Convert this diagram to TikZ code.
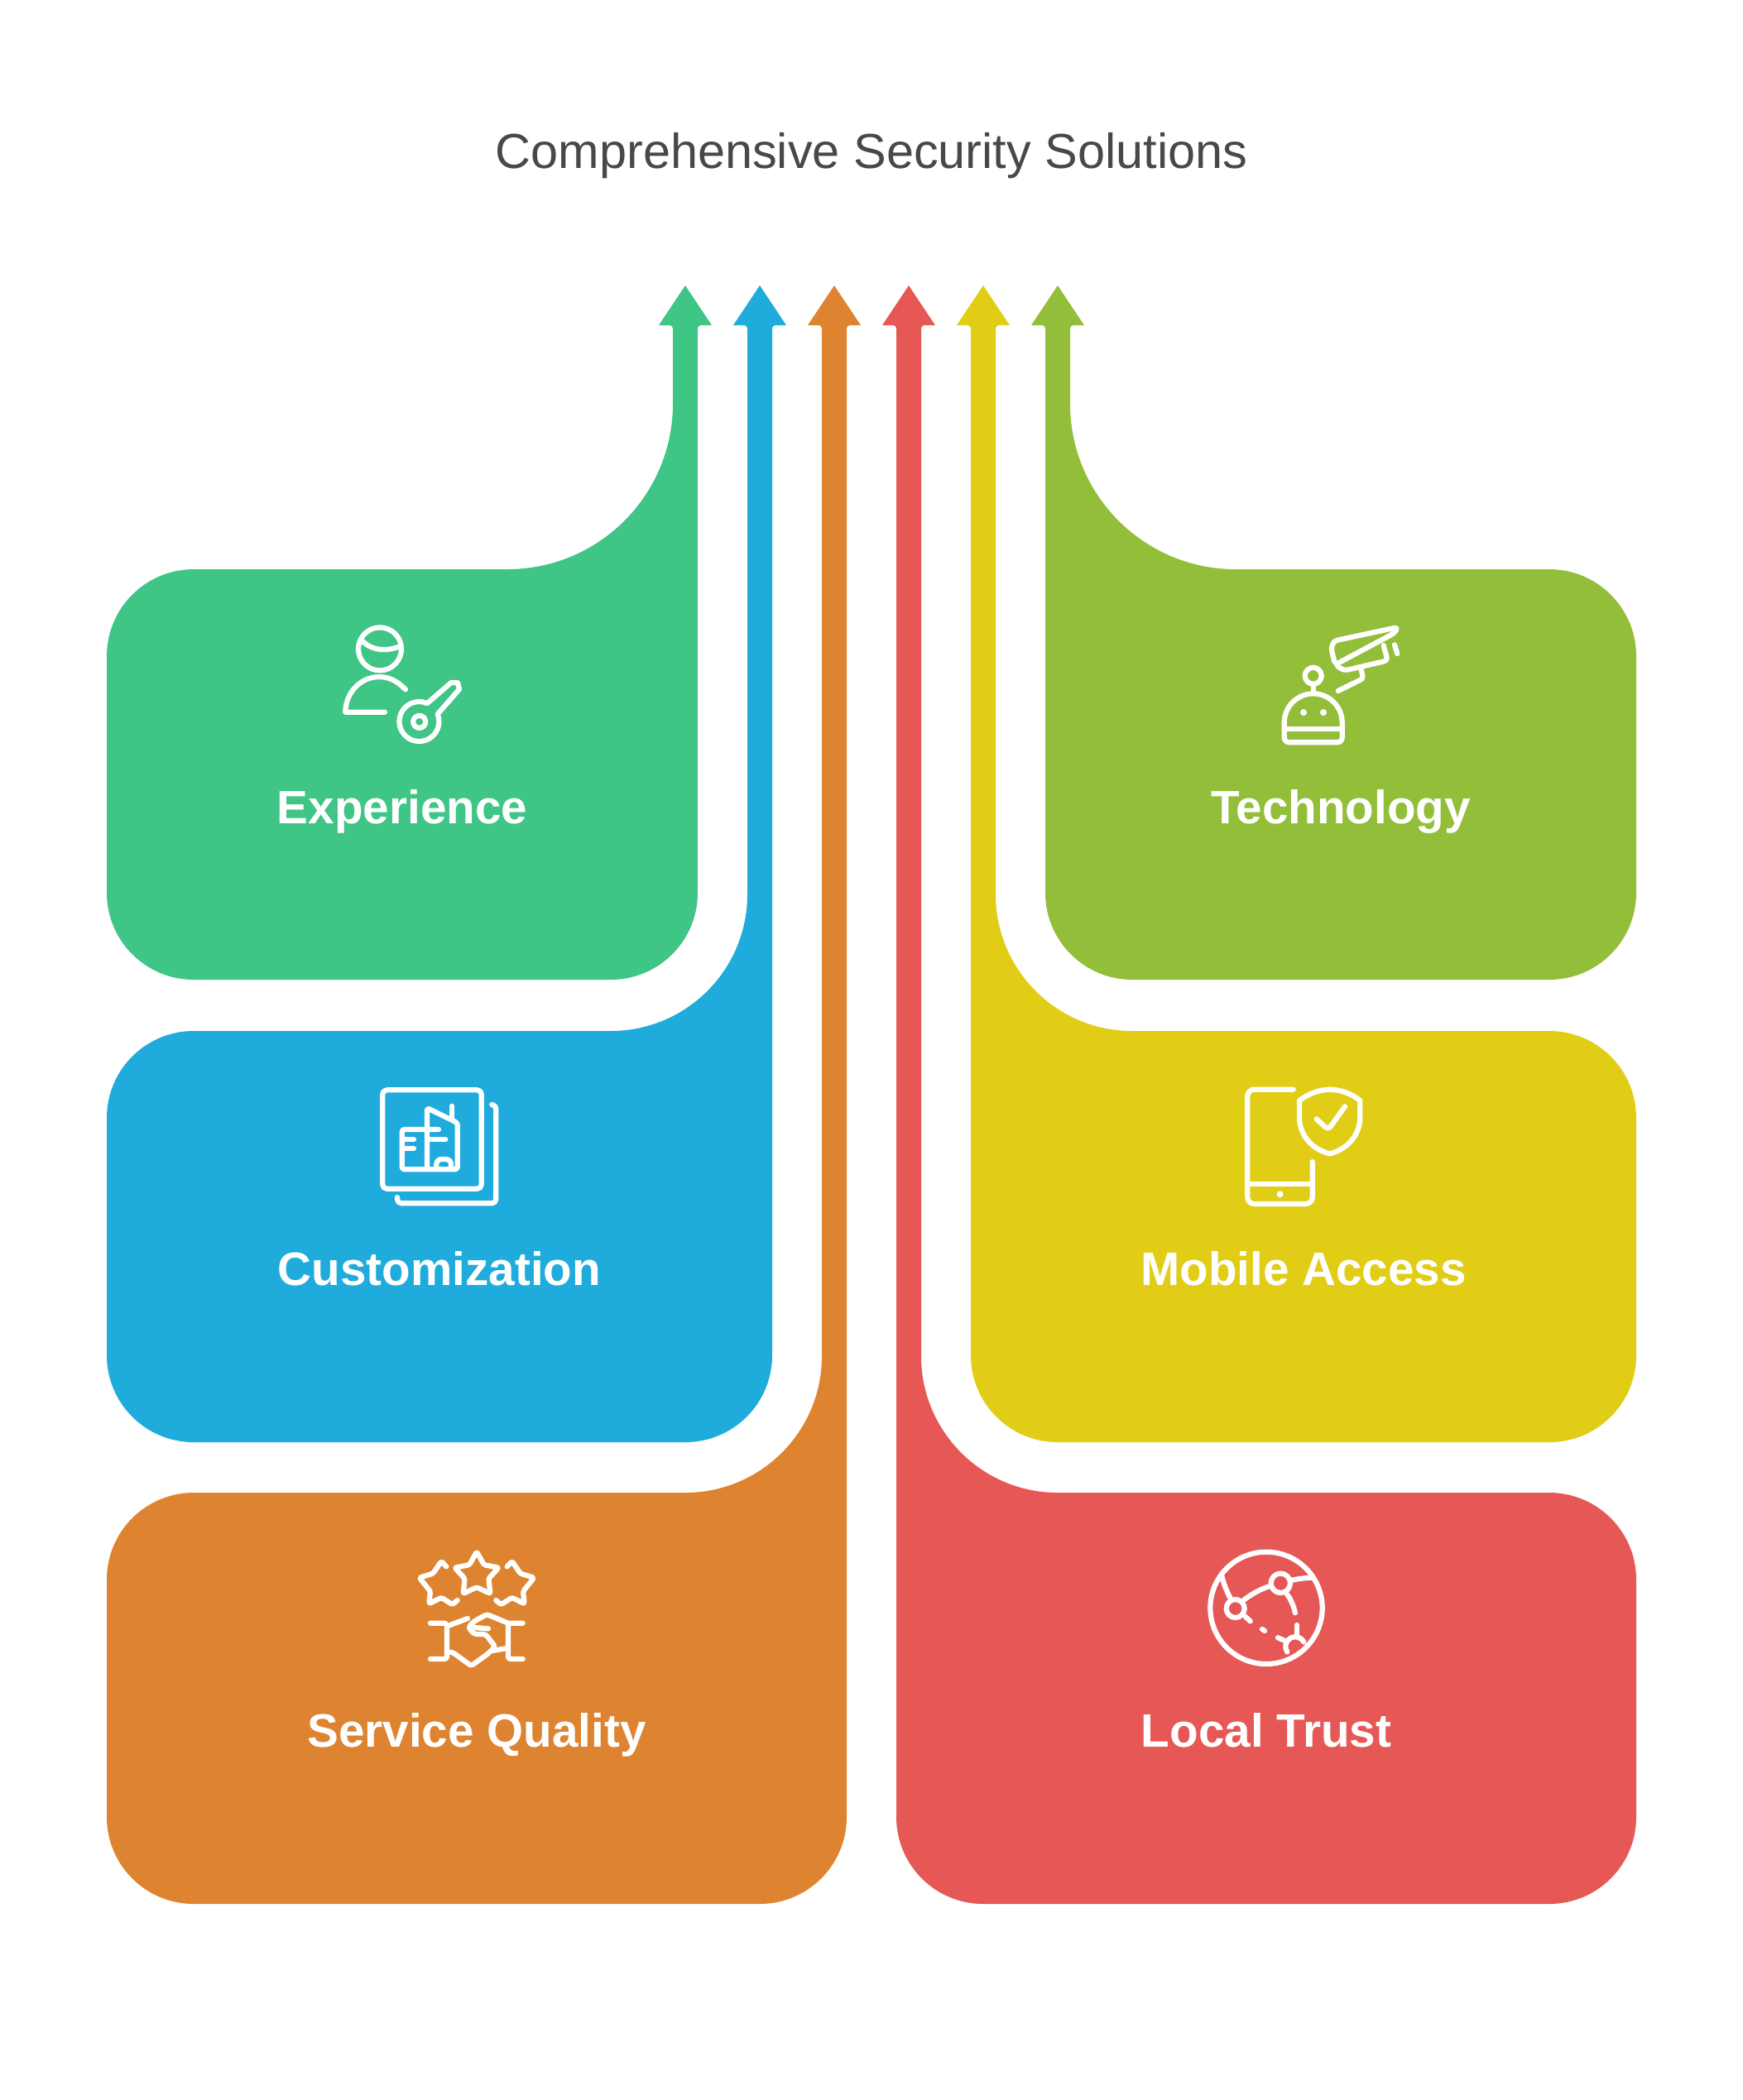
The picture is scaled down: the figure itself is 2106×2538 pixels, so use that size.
\documentclass[tikz,border=0pt]{standalone}
\usepackage{fontspec}
\setmainfont{Liberation Sans}
\usepackage{xcolor}
\definecolor{expgreen}{HTML}{3FC585}
\definecolor{custblue}{HTML}{1FABDC}
\definecolor{servorange}{HTML}{DE8431}
\definecolor{trustred}{HTML}{E65856}
\definecolor{mobyellow}{HTML}{E1CD15}
\definecolor{techlime}{HTML}{93BE3A}
\definecolor{titlegray}{HTML}{484848}
\tikzset{
  iconline/.style={draw=white,line width=0.062cm,line cap=round,line join=round},
  icondot/.style={fill=white},
  labeltext/.style={anchor=base,text=white,font=\fontsize{16.1}{20}\selectfont\bfseries},
  titletext/.style={anchor=base,text=titlegray,font=\fontsize{16.9}{20}\selectfont}
}

\begin{document}
\begin{tikzpicture}[x=0.01cm,y=-0.01cm]
  \useasboundingbox (0,0) rectangle (2106,2538);
  \node[titletext] (title) at (1053,203) {Comprehensive Security Solutions};

  % arrow shapes
  \fill[expgreen] (828,345) -- (860,393) -- (847,393) arc[start angle=270,end angle=180,radius=4] -- (843,1079)
    arc[start angle=0,end angle=90,radius=105] -- (234,1184) arc[start angle=90,end angle=180,radius=105] -- (129,793)
    arc[start angle=180,end angle=270,radius=105] -- (613,688) arc[start angle=90,end angle=0,radius=200]
    -- (813,397) arc[start angle=0,end angle=-90,radius=4] -- (796,393) -- cycle;  % experience
  \fill[custblue] (918,345) -- (950,393) -- (937,393) arc[start angle=270,end angle=180,radius=4] -- (933,1638)
    arc[start angle=0,end angle=90,radius=105] -- (234,1743) arc[start angle=90,end angle=180,radius=105] -- (129,1351)
    arc[start angle=180,end angle=270,radius=105] -- (738,1246) arc[start angle=90,end angle=0,radius=165]
    -- (903,397) arc[start angle=0,end angle=-90,radius=4] -- (886,393) -- cycle;  % customization
  \fill[servorange] (1008,345) -- (1040,393) -- (1027,393) arc[start angle=270,end angle=180,radius=4] -- (1023,2196)
    arc[start angle=0,end angle=90,radius=105] -- (234,2301) arc[start angle=90,end angle=180,radius=105] -- (129,1909)
    arc[start angle=180,end angle=270,radius=105] -- (828,1804) arc[start angle=90,end angle=0,radius=165]
    -- (993,397) arc[start angle=0,end angle=-90,radius=4] -- (976,393) -- cycle;  % service quality
  \fill[trustred] (1098,345) -- (1130,393) -- (1117,393) arc[start angle=270,end angle=180,radius=4] -- (1113,1639)
    arc[start angle=180,end angle=90,radius=165] -- (1872,1804) arc[start angle=270,end angle=360,radius=105] -- (1977,2196)
    arc[start angle=0,end angle=90,radius=105] -- (1188,2301) arc[start angle=90,end angle=180,radius=105]
    -- (1083,397) arc[start angle=0,end angle=-90,radius=4] -- (1066,393) -- cycle;  % local trust
  \fill[mobyellow] (1188,345) -- (1220,393) -- (1207,393) arc[start angle=270,end angle=180,radius=4] -- (1203,1081)
    arc[start angle=180,end angle=90,radius=165] -- (1872,1246) arc[start angle=270,end angle=360,radius=105] -- (1977,1638)
    arc[start angle=0,end angle=90,radius=105] -- (1278,1743) arc[start angle=90,end angle=180,radius=105]
    -- (1173,397) arc[start angle=0,end angle=-90,radius=4] -- (1156,393) -- cycle;  % mobile access
  \fill[techlime] (1278,345) -- (1310,393) -- (1297,393) arc[start angle=270,end angle=180,radius=4] -- (1293,488)
    arc[start angle=180,end angle=90,radius=200] -- (1872,688) arc[start angle=270,end angle=360,radius=105] -- (1977,1079)
    arc[start angle=0,end angle=90,radius=105] -- (1368,1184) arc[start angle=90,end angle=180,radius=105]
    -- (1263,397) arc[start angle=0,end angle=-90,radius=4] -- (1246,393) -- cycle;  % technology

  % labels
  \node[labeltext] (experience) at (486,995) {Experience};
  \node[labeltext] (customization) at (531,1553) {Customization};
  \node[labeltext] (service) at (576,2111) {Service Quality};
  \node[labeltext] (trust) at (1530,2111) {Local Trust};
  \node[labeltext] (mobile) at (1575,1553) {Mobile Access};
  \node[labeltext] (technology) at (1620,995) {Technology};

  % person with key
  \draw[iconline] (459,784.3) circle[radius=26];  % head
  \draw[iconline] (438.3,775) .. controls (450,787) and (468,787) .. (481.7,781.7);  % hair
  \draw[iconline] (490,833.3) .. controls (480,823) and (470,818) .. (458,818)
    .. controls (435,818) and (417.3,838) .. (417.3,860.7) -- (465,860.7);  % body
  \draw[iconline] (528.7,863) arc[start angle=-22,end angle=294,radius=24] -- (545,825) -- (553,825) -- (555,833) -- cycle;  % key
  \draw[iconline] (506.7,872.3) circle[radius=7.5];  % key hole

  % robot and camera
  \draw[iconline,rounded corners=0.06cm] (1551.7,873.3) -- (1551.7,897.3) -- (1621.7,897.3) -- (1621.7,873.3);
  \draw[iconline] (1551.7,873.3) arc[start angle=180,end angle=360,radius=35];  % dome
  \draw[iconline] (1551.7,880.7) -- (1621.7,880.7);
  \fill[icondot] (1575,861) circle[radius=4];
  \fill[icondot] (1599,861) circle[radius=4];
  \draw[iconline] (1586.7,816.7) circle[radius=10];  % antenna
  \draw[iconline] (1586.7,826.7) -- (1586.7,838.3);
  \draw[iconline,rounded corners=0.04cm] (1685,765) -- (1689,758) -- (1612,774.5) -- (1608.3,783.3) -- (1613.3,803.3) -- cycle;  % camera body
  \draw[iconline,rounded corners=0.04cm] (1671.7,780) -- (1676.7,798.3) -- (1624,810.5) -- (1616,805);
  \draw[iconline,rounded corners=0.03cm] (1645,810) -- (1647,820) -- (1616.7,835);  % stand
  \draw[iconline] (1685,779.3) -- (1688.3,790);

  % building cards
  \draw[iconline,rounded corners=0.05cm] (462.3,1317.3) rectangle (581.7,1436.7);
  \draw[iconline,rounded corners=0.05cm] (480,1447) -- (480,1454.3) -- (599.3,1454.3) -- (599.3,1335) -- (595,1335);
  \draw[iconline,rounded corners=0.03cm] (530,1365) -- (485.7,1365) -- (485.7,1413.3) -- (552.7,1413.3) -- (552.7,1357) -- (516,1339) -- (516,1412);
  \draw[iconline] (546,1336.7) -- (546,1351.7);
  \draw[iconline] (488,1376.7) -- (500,1376.7);
  \draw[iconline] (488,1388.3) -- (500,1388.3);
  \draw[iconline] (518,1377.3) -- (538.3,1377.3);
  \draw[iconline,rounded corners=0.06cm] (527.3,1412) -- (527.3,1401) -- (545,1401) -- (545,1412);  % door

  % phone and shield
  \draw[iconline,rounded corners=0.08cm] (1562.7,1316.7) -- (1507.3,1316.7) -- (1507.3,1455) -- (1585.7,1455) -- (1585.7,1404);
  \draw[iconline] (1507.3,1431) -- (1585.7,1431);
  \fill[icondot] (1546.7,1443.3) circle[radius=4];
  \draw[iconline] (1570,1330) .. controls (1581,1322) and (1594,1316.7) .. (1606.7,1316.7)
    .. controls (1620,1316.7) and (1633,1322) .. (1643.3,1330)
    -- (1643.3,1350) .. controls (1643.3,1372) and (1628,1389) .. (1606.7,1394.3)
    .. controls (1585,1389) and (1570,1372) .. (1570,1350) -- cycle;  % shield
  \draw[iconline] (1590.7,1352.3) -- (1600,1361) .. controls (1603,1364) and (1606,1364) .. (1608,1361) -- (1625,1337.3);  % check

  % stars and handshake
  \draw[iconline,rounded corners=0.025cm] (576,1875.3) -- (584.8,1891.2) -- (602.6,1894.6) -- (590.3,1908) -- (592.5,1926)
    -- (576,1918.3) -- (559.5,1926) -- (561.7,1908) -- (549.4,1894.6) -- (567.2,1891.2) -- cycle;
  \draw[iconline,rounded corners=0.025cm] (539.3,1893.3) -- (533.3,1886.7) -- (523.3,1901.7) -- (506.7,1906.7) -- (520,1923.3)
    -- (518.3,1938.3) -- (533.3,1930.7) -- (546.7,1939.3) -- (552.7,1934);
  \draw[iconline,rounded corners=0.025cm] (612.7,1893.3) -- (618.7,1886.7) -- (628.7,1901.7) -- (645.3,1906.7) -- (632,1923.3)
    -- (633.7,1938.3) -- (618.7,1930.7) -- (605.3,1939.3) -- (599.3,1934);
  \draw[iconline,rounded corners=0.03cm] (520,1961.7) -- (540,1961.7) -- (540,2005) -- (520,2005);  % left cuff
  \draw[iconline,rounded corners=0.03cm] (631.7,1961.7) -- (614,1961.7) -- (614,2005) -- (631.7,2005);  % right cuff
  \draw[iconline] (541,1965) -- (565,1956);
  \draw[iconline,rounded corners=0.03cm] (614,1961.7) -- (588.3,1951) -- (572,1960) -- (566,1967) -- (573,1975) -- (586.7,1975)
    -- (598.3,1990) -- (590,1998.3) -- (569.3,2013.3) -- (546.7,1996.7) -- (540,1996.7);  % hand
  \draw[iconline] (573,1967) -- (590,1968.3);
  \draw[iconline] (595,1995) -- (614,1991.7);

  % globe with constellation
  \draw[iconline] (1530,1943.3) circle[radius=67.7];
  \draw[iconline] (1492.7,1944) circle[radius=11];
  \draw[iconline] (1547.3,1913.3) circle[radius=11.7];
  \draw[iconline] (1555.3,1996.5) arc[start angle=146,end angle=332,radius=11.7];
  \draw[iconline] (1476,1903.3) .. controls (1478,1913) and (1482,1923) .. (1486.7,1931.7);
  \draw[iconline] (1503.3,1933.3) .. controls (1513,1926) and (1524,1920) .. (1535,1916.7);
  \draw[iconline] (1560,1910) .. controls (1568,1908) and (1577,1907) .. (1585,1906.7);
  \draw[iconline] (1555,1926.7) .. controls (1560,1933) and (1563,1941) .. (1565,1949.3);
  \draw[iconline] (1505,1954) -- (1510.7,1959.3);
  \draw[iconline] (1525,1969) -- (1528,1971);
  \draw[iconline] (1566.7,1964) -- (1566.7,1978.3);
  \draw[iconline] (1544,1979.3) -- (1555,1984);
\end{tikzpicture}
\end{document}
